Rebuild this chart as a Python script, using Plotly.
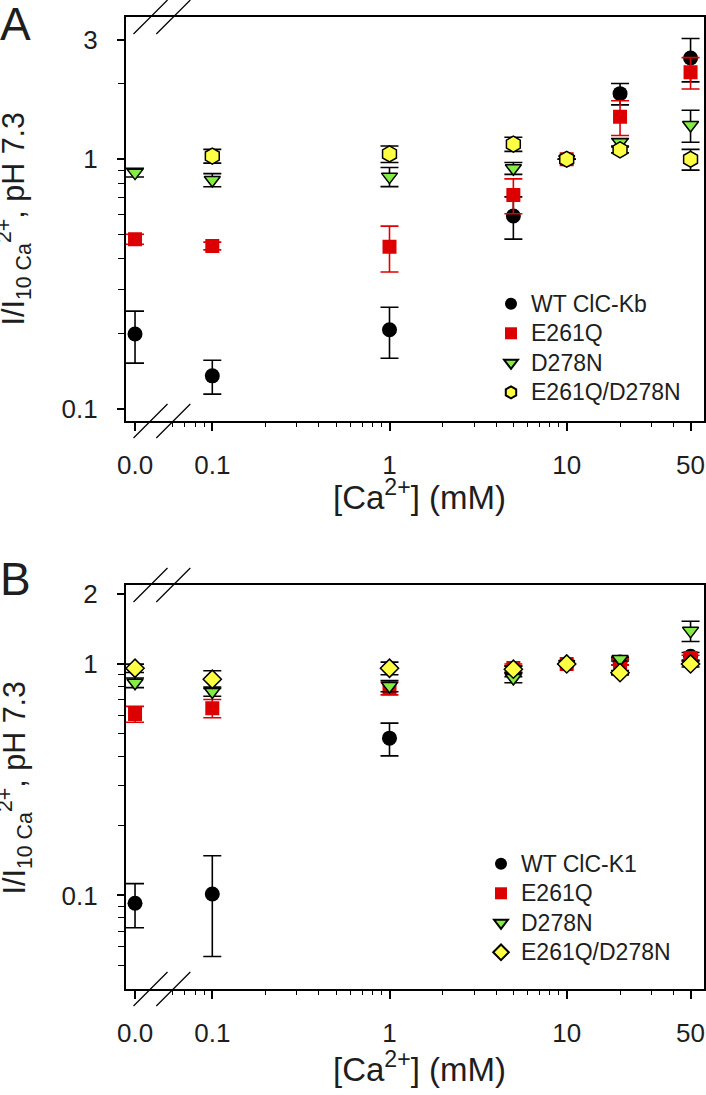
import plotly.graph_objects as go

# ---------------- data ----------------
conc = [0, 0.1, 1, 5, 10, 20, 50]          # [Ca2+] in mM

# Panel A (ClC-Kb)
wt_kb = [0.200, 0.136, 0.208, 0.593, 1.0, 1.83, 2.54]
wt_kb_err = [0.047, 0.021, 0.048, 0.114, 0.0, 0.18, 0.50]
e261q_a = [0.479, 0.450, 0.447, 0.72, 1.0, 1.48, 2.23]
e261q_a_err = [0.022, 0.016, 0.093, 0.115, 0.0, 0.235, 0.32]
d278n_a = [0.884, 0.826, 0.852, 0.92, 1.0, 1.17, 1.37]
d278n_a_err = [0.035, 0.05, 0.075, 0.05, 0.0, 0.04, 0.2]
double_a = [None, 1.03, 1.05, 1.15, 1.0, 1.09, 1.0]
double_a_err = [None, 0.065, 0.08, 0.075, 0.0, 0.03, 0.095]

# Panel B (ClC-K1)
wt_k1 = [0.0925, 0.1015, 0.478, 0.93, 1.0, 1.02, 1.08]
wt_k1_err = [0.02, 0.047, 0.077, 0.05, 0.0, 0.03, 0.04]
e261q_b = [0.608, 0.644, 0.785, 0.96, 1.0, 1.02, 1.06]
e261q_b_err = [0.048, 0.058, 0.05, 0.04, 0.0, 0.03, 0.03]
d278n_b = [0.83, 0.76, 0.803, 0.87, 1.0, 1.05, 1.39]
d278n_b_err = [0.04, 0.035, 0.045, 0.04, 0.0, 0.02, 0.14]
double_b = [0.958, 0.859, 0.958, 0.949, 1.0, 0.917, 1.0]
double_b_err = [0.04, 0.075, 0.06, 0.03, 0.0, 0.02, 0.03]

names_a = ["WT ClC-Kb", "E261Q", "D278N", "E261Q/D278N"]
names_b = ["WT ClC-K1", "E261Q", "D278N", "E261Q/D278N"]

x_ticktext = ["0.0", "0.1", "1", "10", "50"]
x_major = [0.1, 1, 10, 50]
x_minor = [0.06, 0.07, 0.08, 0.09, 0.2, 0.3, 0.4, 0.5, 0.6, 0.7, 0.8, 0.9,
           2, 3, 4, 5, 6, 7, 8, 9, 20, 30, 40]
ya_ticks = [0.1, 1, 3]
ya_minor = [0.2, 0.3, 0.4, 0.5, 0.6, 0.7, 0.8, 0.9, 2]
yb_ticks = [0.1, 1, 2]
yb_minor = [0.05, 0.06, 0.07, 0.08, 0.09, 0.2, 0.3, 0.4, 0.5, 0.6, 0.7, 0.8, 0.9]

# ---------------- style / geometry ----------------
W, H = 706, 1095
ZERO_POS = 0.03664           # plotting position of the "0.0" point (broken axis)
RED = "#dd0000"
GREEN = "#84ec44"
YELLOW = "#ffff44"
FONT = "Arial, Liberation Sans, sans-serif"
TXT = "#1e1e1e"
LEG_TXT = 23

def px_x(p):
    return p / W

def px_y(p):
    return 1 - p / H

xp = [ZERO_POS if c == 0 else c for c in conc]

fig = go.Figure()

def add_series(x, y, err, name, symbol, size, color, line_w, err_color, xa, ya, legend):
    fig.add_trace(go.Scatter(
        x=x, y=y, mode="markers", xaxis=xa, yaxis=ya, legend=legend,
        name='<span style="font-size:%dpx">%s</span>' % (LEG_TXT, name),
        marker=dict(symbol=symbol, size=size, color=color,
                    line=dict(color="black", width=line_w)),
        error_y=dict(type="data", array=err, visible=True, color=err_color,
                     thickness=1.6, width=9),
    ))

add_series(xp, wt_kb, wt_kb_err, names_a[0], "circle", 15, "black", 0, "black", "x", "y", "legend")
add_series(xp, e261q_a, e261q_a_err, names_a[1], "square", 14, RED, 0, RED, "x", "y", "legend")
add_series(xp, d278n_a, d278n_a_err, names_a[2], "triangle-down", 14, GREEN, 1.5, "black", "x", "y", "legend")
add_series(xp, double_a, double_a_err, names_a[3], "hexagon", 16, YELLOW, 1.5, "black", "x", "y", "legend")

add_series(xp, wt_k1, wt_k1_err, names_b[0], "circle", 15, "black", 0, "black", "x2", "y2", "legend2")
add_series(xp, e261q_b, e261q_b_err, names_b[1], "square", 14, RED, 0, RED, "x2", "y2", "legend2")
add_series(xp, d278n_b, d278n_b_err, names_b[2], "triangle-down", 14, GREEN, 1.5, "black", "x2", "y2", "legend2")
add_series(xp, double_b, double_b_err, names_b[3], "diamond", 14, YELLOW, 1.5, "black", "x2", "y2", "legend2")

x_dom = [px_x(125.7), px_x(704.3)]
ya_dom = [px_y(421), px_y(17)]
yb_dom = [px_y(989), px_y(585)]

common_x = dict(type="log", range=[-1.4887, 1.7765], domain=x_dom, automargin=False,
                tickvals=[ZERO_POS] + x_major, ticktext=x_ticktext,
                ticks="outside", ticklen=8, tickwidth=1.5, tickcolor="black",
                showline=True, linewidth=1.5, linecolor="black", mirror=True,
                showgrid=False, zeroline=False, ticklabelstandoff=12,
                tickfont=dict(family=FONT, size=26, color=TXT),
                minor=dict(tickmode="array", tickvals=x_minor, ticks="outside",
                           ticklen=4, tickwidth=1.2, tickcolor="black", showgrid=False))

def common_y(rng, dom, tv, mv):
    return dict(type="log", range=rng, domain=dom, automargin=False,
                tickvals=tv, ticktext=[("%g" % v) for v in tv],
                ticks="outside", ticklen=7, tickwidth=1.5, tickcolor="black",
                showline=True, linewidth=1.5, linecolor="black", mirror=True,
                showgrid=False, zeroline=False, ticklabelstandoff=14,
                tickfont=dict(family=FONT, size=26, color=TXT),
                minor=dict(tickmode="array", tickvals=mv, ticks="outside",
                           ticklen=6, tickwidth=1.2, tickcolor="black", showgrid=False))

leg_common = dict(xanchor="left", yanchor="top", bgcolor="rgba(0,0,0,0)",
                  font=dict(family=FONT, size=20.4, color=TXT),
                  itemsizing="constant", tracegroupgap=0, borderwidth=0)

fig.update_layout(
    template="none",
    width=W, height=H, margin=dict(l=0, r=0, t=0, b=0, autoexpand=False),
    paper_bgcolor="white", plot_bgcolor="white",
    xaxis=dict(anchor="y", **common_x),
    yaxis=dict(anchor="x", **common_y([-1.047, 0.569], ya_dom, ya_ticks, ya_minor)),
    xaxis2=dict(anchor="y2", **common_x),
    yaxis2=dict(anchor="x2", **common_y([-1.404, 0.341], yb_dom, yb_ticks, yb_minor)),
    legend=dict(x=px_x(491), y=px_y(284), **leg_common),
    legend2=dict(x=px_x(481), y=px_y(844), **leg_common),
    showlegend=True,
)

# axis-break slashes
shapes = []
for (ax_top, ax_bot) in [(17, 421), (585, 989)]:
    for cy in (ax_top, ax_bot):
        for cx in (150.5, 173.3):
            shapes.append(dict(type="line", xref="paper", yref="paper",
                               x0=px_x(cx - 17), y0=px_y(cy + 17),
                               x1=px_x(cx + 17), y1=px_y(cy - 17),
                               line=dict(color="black", width=1.2)))
fig.update_layout(shapes=shapes)

ytitle = "I/I<sub>10 Ca</sub><sup>2+</sup>, pH 7.3"
xtitle = "[Ca<sup>2+</sup>] (mM)"
ann = [
    dict(text="A", x=px_x(-2), y=px_y(24), xanchor="left", yanchor="middle"),
    dict(text="B", x=px_x(-2), y=px_y(579), xanchor="left", yanchor="middle"),
]
for a in ann:
    a.update(xref="paper", yref="paper", showarrow=False,
             font=dict(family=FONT, size=46, color=TXT))
for cy in (219, 788):
    ann.append(dict(text=ytitle, x=px_x(14.5), y=px_y(cy), xref="paper", yref="paper",
                    xanchor="center", yanchor="middle", textangle=-90, showarrow=False,
                    font=dict(family=FONT, size=30.5, color=TXT)))
for cy in (495, 1067):
    ann.append(dict(text=xtitle, x=px_x(419), y=px_y(cy), xref="paper", yref="paper",
                    xanchor="center", yanchor="middle", showarrow=False,
                    font=dict(family=FONT, size=33, color=TXT)))
fig.update_layout(annotations=ann)

fig.write_html("out.html", config={"displayModeBar": False},
               post_script="document.body.style.margin='0';document.body.style.overflow='hidden';")
